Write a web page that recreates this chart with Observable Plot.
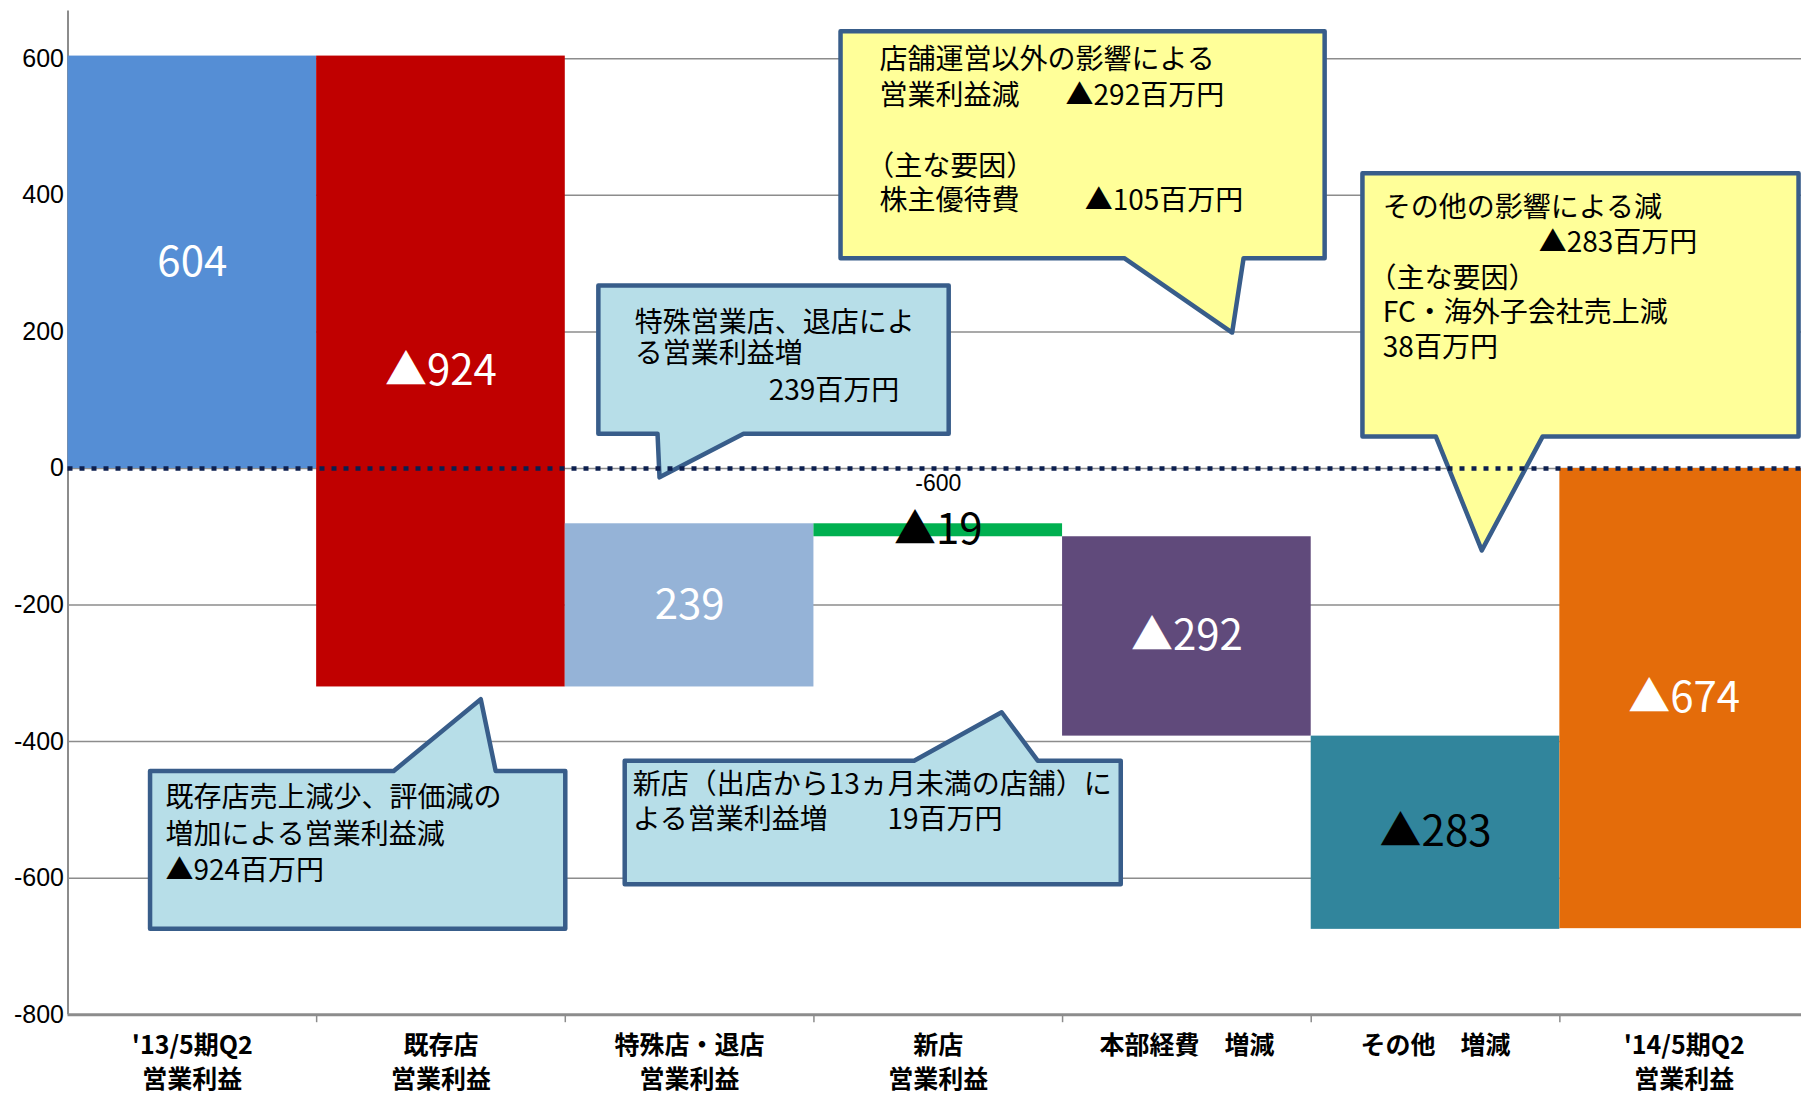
<!DOCTYPE html>
<html>
<head>
<meta charset="utf-8">
<script src="https://cdn.jsdelivr.net/npm/d3@7"></script>
<script src="https://cdn.jsdelivr.net/npm/@observablehq/plot@0.6"></script>
<style>
  html, body { margin: 0; padding: 0; background: #fff; overflow: hidden; }
  #chart svg { overflow: hidden !important; display: block; }
</style>
</head>
<body>
<div id="chart"></div>
<script>
// ---- data ----
const categories = ["'13/5期Q2\n営業利益", "既存店\n営業利益", "特殊店・退店\n営業利益", "新店\n営業利益", "本部経費　増減", "その他　増減", "'14/5期Q2\n営業利益"];
const kinds = ["total", "delta", "delta", "delta", "delta", "delta", "total"];
const values = [604, -924, 239, -19, -292, -283, -674];
const barLabels = ["604", "▲924", "239", "▲19", "▲292", "▲283", "▲674"];
const barColors = ["#558ED5", "#C00000", "#95B3D7", "#00B050", "#604A7B", "#31859C", "#E46C0A"];
const labelColors = ["#FFFFFF", "#FFFFFF", "#FFFFFF", "#000000", "#FFFFFF", "#000000", "#FFFFFF"];
const yTicks = [600, 400, 200, 0, -200, -400, -600, -800];
const strayLabel = [{x: 3.5, y: -22, t: "-600"}];

// ---- callout annotations (data coordinates: x in category units, y in value units) ----
const callouts = [
  {fill: "#B7DEE8", L: 0.33, R: 2.0, T: -443, B: -674, side: "top", p1: 1.31, tip: [1.66, -338], p2: 1.72},
  {fill: "#B7DEE8", L: 2.133, R: 3.542, T: 268, B: 51, side: "bottom", p1: 2.371, tip: [2.379, -13], p2: 2.717},
  {fill: "#B7DEE8", L: 2.239, R: 4.234, T: -428, B: -609, side: "top", p1: 3.403, tip: [3.755, -357], p2: 3.900},
  {fill: "#FFFF99", L: 3.107, R: 5.054, T: 640.5, B: 308, side: "bottom", p1: 4.248, tip: [4.682, 199], p2: 4.728},
  {fill: "#FFFF99", L: 5.206, R: 6.960, T: 432.5, B: 47, side: "bottom", p1: 5.501, tip: [5.686, -120], p2: 5.931}
];
const calloutText = [
  {x: 0.392, y: -483, t: "既存店売上減少、評価減の"},
  {x: 0.392, y: -537.5, t: "増加による営業利益減"},
  {x: 0.392, y: -589, t: "▲924百万円"},
  {x: 2.279, y: 213, t: "特殊営業店、退店によ"},
  {x: 2.279, y: 167, t: "る営業利益増"},
  {x: 2.818, y: 113, t: "239百万円"},
  {x: 2.271, y: -463, t: "新店（出店から13ヵ月未満の店舗）に"},
  {x: 2.271, y: -515.5, t: "よる営業利益増"},
  {x: 3.296, y: -515.5, t: "19百万円"},
  {x: 3.264, y: 597.5, t: "店舗運営以外の影響による"},
  {x: 3.264, y: 545, t: "営業利益減"},
  {x: 4.012, y: 545, t: "▲292百万円"},
  {x: 3.21, y: 441, t: "（主な要因）"},
  {x: 3.264, y: 391, t: "株主優待費"},
  {x: 4.089, y: 391, t: "▲105百万円"},
  {x: 5.288, y: 381, t: "その他の影響による減"},
  {x: 5.915, y: 329.5, t: "▲283百万円"},
  {x: 5.23, y: 277, t: "（主な要因）"},
  {x: 5.288, y: 227, t: "FC・海外子会社売上減"},
  {x: 5.288, y: 176, t: "38百万円"}
];

// ---- waterfall table ----
let run = 0;
const bars = categories.map((c, i) => {
  let y1, y2;
  if (kinds[i] === "total") { y1 = 0; y2 = values[i]; run = values[i]; }
  else { y1 = run; y2 = run + values[i]; run = y2; }
  return {i, y1, y2, label: barLabels[i], color: barColors[i], lc: labelColors[i]};
});

function poly(c) {
  const mid = (c.T + c.B) / 2;
  const pts = c.side === "top"
    ? [[c.L, mid], [c.L, c.T], [c.p1, c.T], c.tip, [c.p2, c.T], [c.R, c.T], [c.R, c.B], [c.L, c.B], [c.L, mid]]
    : [[c.L, mid], [c.L, c.T], [c.R, c.T], [c.R, c.B], [c.p2, c.B], c.tip, [c.p1, c.B], [c.L, c.B], [c.L, mid]];
  return pts.map(([x, y]) => ({x, y}));
}

const CJK = "'Noto Sans CJK JP', 'Noto Sans', sans-serif";

const plot = Plot.plot({
  width: 1801,
  height: 1096,
  marginLeft: 67.5,
  marginRight: 0,
  marginTop: 0,
  marginBottom: 81.8,
  x: {type: "linear", domain: [0, 7], range: [67.5, 1808], label: null},
  y: {domain: [-800, 685.4], label: null},
  color: {type: "identity"},
  style: {background: "#fff", fontFamily: "'Liberation Sans', Arial, sans-serif"},
  marks: [
    Plot.ruleY(yTicks.filter(d => d > -800), {x1: 0, x2: 7, stroke: "#8C8C8C", strokeWidth: 1.5}),
    Plot.ruleY([-800], {x1: 0, x2: 7, stroke: "#8C8C8C", strokeWidth: 3}),
    Plot.ruleX([0], {y1: -800, y2: 670, stroke: "#8C8C8C", strokeWidth: 2}),
    Plot.axisX({ticks: [1, 2, 3, 4, 5, 6], tickSize: 8, tickFormat: () => "", label: null, stroke: "#8C8C8C", strokeWidth: 1.5}),
    Plot.axisY({ticks: yTicks, tickSize: 0, tickPadding: 4, tickFormat: d => String(d), label: null, fontSize: 25, fill: "#000", fontFamily: "'Liberation Sans', Arial, sans-serif"}),
    Plot.rect(bars, {x1: d => d.i, x2: d => d.i + 1, y1: "y1", y2: "y2", fill: "color"}),
    ...callouts.map(c => Plot.line(poly(c), {x: "x", y: "y", fill: c.fill, stroke: "#385D8A", strokeWidth: 4.5, strokeLinejoin: "round", curve: "linear"})),
    Plot.ruleY([0], {x1: 0, x2: 7, stroke: "#0C1F4F", strokeWidth: 4.5, strokeDasharray: "5,7"}),
    Plot.text(bars, {x: d => d.i + 0.5, y: d => (d.y1 + d.y2) / 2, text: "label", fill: "lc", fontSize: 42, fontFamily: CJK}),
    Plot.text(categories, {x: (d, i) => i + 0.5, y: () => -800, text: d => d, lineAnchor: "top", dy: 15, lineHeight: 1.36, fontSize: 25, fontWeight: "bold", fontFamily: CJK, fill: "#000"}),
    Plot.text(calloutText, {x: "x", y: "y", text: "t", textAnchor: "start", fontSize: 28, fontFamily: CJK, fill: "#000"}),
    Plot.text(strayLabel, {x: "x", y: "y", text: "t", fontSize: 23, fill: "#000", fontFamily: "'Liberation Sans', Arial, sans-serif"})
  ]
});
document.getElementById("chart").appendChild(plot);
</script>
</body>
</html>
